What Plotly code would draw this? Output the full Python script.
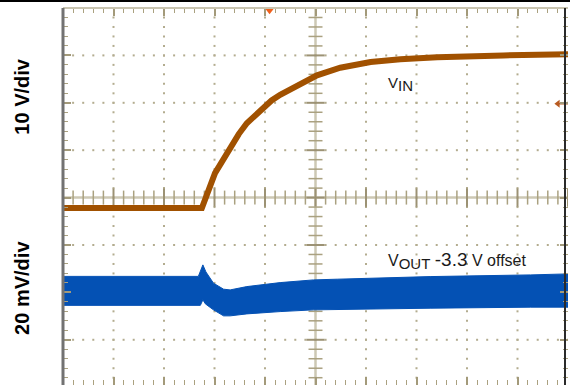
import numpy as np
import plotly.graph_objects as go

# Scope capture: 10 divisions across, 8 divisions tall (bottom row is cropped)
# Time is in screen divisions, VIN in volts (10 V/div), VOUT deviation in mV (20 mV/div)
vin_time = [0, 2.75, 3.01, 3.31, 3.48, 3.64, 3.97, 4.13, 4.30, 4.70, 5.03, 5.49, 5.79, 6.09, 6.68, 7.41, 8.72, 10.0]
vin_volts = [0, 0, 7.35, 12.96, 15.6, 17.9, 21.4, 22.7, 23.9, 26.3, 28.0, 29.6, 30.2, 30.8, 31.4, 31.8, 32.2, 32.45]

vout_upper_time = [0, 2.68, 2.77, 2.83, 2.98, 3.18, 3.31, 3.64, 4.30, 4.96, 5.43, 7.27, 9.26, 10.0]
vout_upper_mv = [6.75, 6.75, 11.6, 8.65, 3.88, 1.35, 1.05, 2.45, 4.13, 5.27, 5.57, 6.67, 7.38, 7.8]
vout_lower_time = [0, 2.72, 2.77, 2.82, 2.98, 3.18, 3.31, 3.64, 4.30, 4.96, 5.43, 7.27, 9.26, 10.0]
vout_lower_mv = [-5.48, -5.48, -3.16, -4.85, -7.38, -9.91, -9.91, -9.07, -8.10, -7.38, -7.38, -6.67, -6.24, -6.24]

VIN_SCALE = 10.0      # V/div
VOUT_SCALE = 20.0     # mV/div
VIN_GROUND = -0.22    # div position of 0 V
VOUT_REF = -2.0       # div position of 3.3 V
TRIG_TIME = 4.09
TRIG_LEVEL = 22.0     # V

Y_BOTTOM = -3.954
GRID = '#b3ac8f'
AXIS = '#cdc8b4'
TICK = '#aaa180'
FONT = 'Liberation Sans, Arial, sans-serif'

vin_y = [v / VIN_SCALE + VIN_GROUND for v in vin_volts]
up_y = [v / VOUT_SCALE + VOUT_REF for v in vout_upper_mv]
lo_y = [v / VOUT_SCALE + VOUT_REF for v in vout_lower_mv]
trig_y = TRIG_LEVEL / VIN_SCALE + VIN_GROUND

fig = go.Figure()

# graticule dots
minor_x = np.round(np.arange(0, 10.001, 0.2), 2)
minor_y = np.round(np.arange(-4, 4.001, 0.2), 2)
dx, dy = [], []
for yy in [-3, -2, -1, 1, 2, 3]:
    dx += list(minor_x)
    dy += [yy] * len(minor_x)
for xx in [1, 2, 3, 4, 6, 7, 8, 9]:
    dx += [xx] * len(minor_y)
    dy += list(minor_y)
fig.add_trace(go.Scatter(x=dx, y=dy, mode='markers', hoverinfo='skip',
                         marker=dict(symbol='square', size=2, color=GRID, line=dict(width=0))))

# centre cross-hair ticks
is_major_x = np.isclose(minor_x, np.round(minor_x))
is_major_y = np.isclose(minor_y, np.round(minor_y))
fig.add_trace(go.Scatter(x=minor_x[~is_major_x], y=[0] * int((~is_major_x).sum()), mode='markers',
                         hoverinfo='skip', marker=dict(symbol='line-ns', size=10, line=dict(width=1.5, color=TICK))))
fig.add_trace(go.Scatter(x=minor_x[is_major_x], y=[0] * int(is_major_x.sum()), mode='markers',
                         hoverinfo='skip', marker=dict(symbol='line-ns', size=13, line=dict(width=2, color='#9c9274'))))
fig.add_trace(go.Scatter(x=[5] * int((~is_major_y).sum()), y=minor_y[~is_major_y], mode='markers',
                         hoverinfo='skip', marker=dict(symbol='line-ew', size=10, line=dict(width=1.5, color=TICK))))
fig.add_trace(go.Scatter(x=[5] * int(is_major_y.sum()), y=minor_y[is_major_y], mode='markers',
                         hoverinfo='skip', marker=dict(symbol='line-ew', size=13, line=dict(width=2, color='#9c9274'))))

# VOUT noise band
fig.add_trace(go.Scatter(
    x=vout_upper_time + vout_lower_time[::-1],
    y=up_y + lo_y[::-1],
    mode='lines', fill='toself', fillcolor='#0451b4',
    line=dict(color='#0451b4', width=1), name='VOUT', hoverinfo='skip'))

# VIN
fig.add_trace(go.Scatter(x=vin_time, y=vin_y, mode='lines', name='VIN',
                         line=dict(color='#a15100', width=6)))

# trigger position and level markers
fig.add_trace(go.Scatter(x=[TRIG_TIME], y=[4 - 0.045], mode='markers', hoverinfo='skip',
                         marker=dict(symbol='triangle-down', size=8, color='#f0601c', line=dict(width=0))))
fig.add_trace(go.Scatter(x=[9.80, 10.0], y=[trig_y, trig_y], mode='lines', hoverinfo='skip',
                         cliponaxis=False, line=dict(color='#b85a20', width=1.5)))
fig.add_trace(go.Scatter(x=[9.80], y=[trig_y], mode='markers', hoverinfo='skip',
                         marker=dict(symbol='triangle-left', size=7, color='#b85a20', line=dict(width=0))))

fig.update_layout(
    width=570, height=385,
    margin=dict(l=63, r=2, t=8, b=0, autoexpand=False),
    paper_bgcolor='white', plot_bgcolor='white',
    showlegend=False,
    xaxis=dict(range=[0, 10], showgrid=False, zeroline=False, showticklabels=False, automargin=False,
               ticks='inside', ticklen=8, tickwidth=1.5, tickcolor='#a39a7a', tick0=0, dtick=1, mirror='ticks',
               minor=dict(ticks='inside', ticklen=5, tickwidth=1.2, tickcolor=TICK, dtick=0.2, showgrid=False)),
    yaxis=dict(range=[Y_BOTTOM, 4], showgrid=False, zeroline=False, showticklabels=False, automargin=False,
               ticks='inside', ticklen=8, tickwidth=1.5, tickcolor='#a39a7a', tick0=0, dtick=1, mirror='ticks',
               minor=dict(ticks='inside', ticklen=5, tickwidth=1.2, tickcolor=TICK, dtick=0.2, showgrid=False)),
    shapes=[
        dict(type='line', x0=5, x1=5, y0=Y_BOTTOM, y1=4, line=dict(color=AXIS, width=2.5), layer='below'),
        dict(type='line', x0=0, x1=10, y0=0, y1=0, line=dict(color=AXIS, width=2.5), layer='below'),
        dict(type='line', xref='paper', yref='paper', x0=0, x1=1, y0=1, y1=1,
             line=dict(color='#c9c4b0', width=2)),
        dict(type='line', xref='paper', yref='paper', x0=0, x1=0, y0=0, y1=1,
             line=dict(color='#727272', width=3)),
        dict(type='line', xref='paper', yref='paper', x0=502 / 505, x1=502 / 505, y0=0, y1=1,
             line=dict(color='#2a2a2a', width=2)),
        dict(type='line', xref='paper', yref='paper', x0=-63 / 505, x1=1 + 2 / 505,
             y0=1 + 7 / 377, y1=1 + 7 / 377, line=dict(color='black', width=2)),
    ],
    annotations=[
        dict(text='<b>10 V/div</b>', xref='paper', yref='y', x=-41 / 505, y=2.13, textangle=-90,
             xanchor='center', yanchor='middle',
             showarrow=False, font=dict(family=FONT, size=20, color='black')),
        dict(text='<b>20 mV/div</b>', xref='paper', yref='y', x=-41 / 505, y=-1.905, textangle=-90,
             xanchor='center', yanchor='middle',
             showarrow=False, font=dict(family=FONT, size=20, color='black')),
        dict(text="V<sub><span style='font-size:15px'>IN</span></sub>", x=6.40, y=2.40,
             xanchor='left', yanchor='middle', showarrow=False,
             font=dict(family=FONT, size=15, color='#1a1a1a')),
        dict(text="V<sub><span style='font-size:15px'>OUT</span></sub> "
                  "<span style='font-size:19px'>-3.3</span> V offset", x=6.40, y=-1.335,
             xanchor='left', yanchor='middle', showarrow=False,
             font=dict(family=FONT, size=16, color='#1a1a1a')),
    ],
)

fig.write_html("out.html", config={'displayModeBar': False},
               post_script="document.body.style.margin='0';")
